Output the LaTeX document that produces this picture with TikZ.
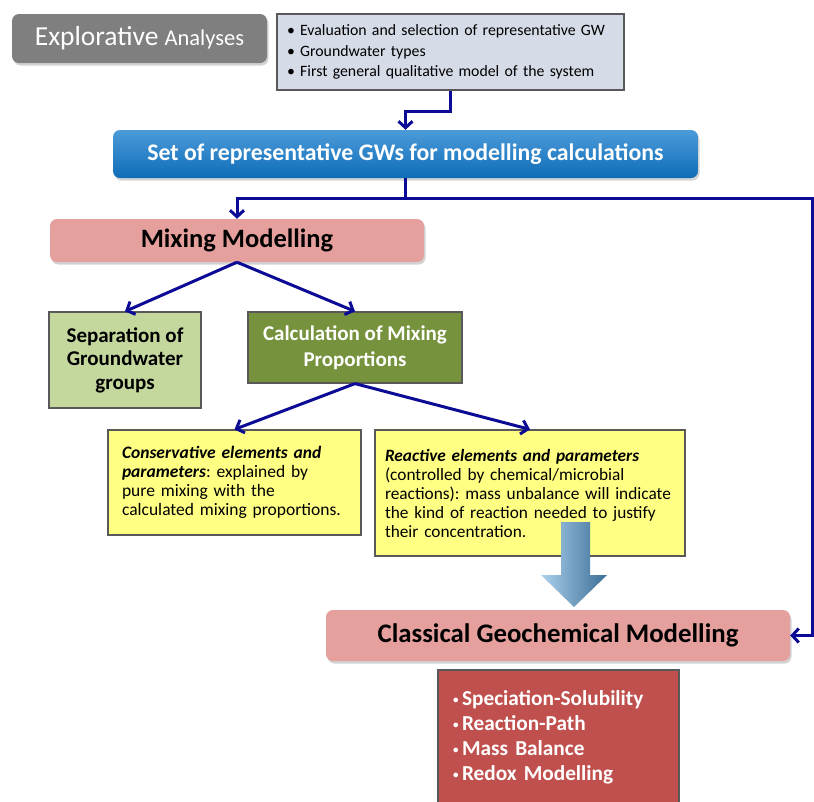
\documentclass[tikz,border=0pt]{standalone}
\usepackage{fontspec}
\setmainfont{Carlito}
\usetikzlibrary{arrows.meta,shadows}
\frenchspacing

\definecolor{arrowblue}{HTML}{0B0B96}
\definecolor{greybox}{HTML}{7F7F7F}
\definecolor{notefill}{HTML}{D6DBE8}
\definecolor{setblue}{HTML}{1079CC}
\definecolor{pinkbox}{HTML}{E5A09E}
\definecolor{lightgreen}{HTML}{C4D89E}
\definecolor{olive}{HTML}{76923C}
\definecolor{paleyellow}{HTML}{FFFF84}
\definecolor{redbox}{HTML}{C0504D}

\newcommand{\dotitem}{\raisebox{2.5pt}{\fontsize{11}{11}\selectfont\textbullet}\,}

\begin{document}
\begin{tikzpicture}[x=1pt,y=-1pt,
  flat/.style={draw=black!65,line width=1.2pt,inner ysep=0pt},
  soft/.style={rounded corners=7pt,drop shadow={opacity=0.35,shadow xshift=1.5pt,shadow yshift=-2.5pt}},
  link/.style={draw=arrowblue,line width=3pt,-{Straight Barb[length=6.5pt,width=14pt]}}
 ]
\useasboundingbox (0,0) rectangle (814,801);

% top row
\node[soft,fill=greybox,text=white,minimum width=255,minimum height=49] (explor) at (139.5,38.5)
  {{\fontsize{27.5}{31}\selectfont Explorative}\hspace{6pt}{\fontsize{22.5}{26}\selectfont Analyses}};
\node[flat,fill=notefill,text width=327,inner xsep=10,minimum height=76,align=left,
  font={\fontsize{15.8}{20.5}\selectfont}] (notes) at (450.5,52)
  {\textbullet\ Evaluation and selection of representative GW\\
   \textbullet\ Groundwater types\\
   \textbullet\ First general qualitative model of the system};

\node[soft,top color=setblue!75!white,bottom color=setblue!90!black,text=white,minimum width=585,minimum height=48,
  font={\fontsize{23.8}{27}\selectfont\bfseries}] (gwset) at (405.5,154)
  {Set of representative GWs for modelling calculations};

% mixing part
\node[soft,fill=pinkbox,minimum width=374,minimum height=43,
  font={\fontsize{26.5}{30}\selectfont\bfseries}] (mixing) at (237,240.5) {Mixing Modelling};
\node[flat,fill=lightgreen,minimum width=152,minimum height=96,align=center,
  font={\fontsize{21}{23.5}\selectfont\bfseries}] (groups) at (125,360)
  {Separation of\\ Groundwater\\ groups};
\node[flat,fill=olive,text=white,minimum width=214,minimum height=71,align=center,
  font={\fontsize{21}{26}\selectfont\bfseries}] (propor) at (355,347.5)
  {Calculation of Mixing\\ Proportions};

\node[flat,fill=paleyellow,text width=225,inner xsep=14,minimum height=105,align=left,
  font={\fontsize{17.5}{19}\selectfont}] (conserv) at (234.5,482.5)
  {\textbf{\textit{Conservative elements and}}\\
   \textbf{\textit{parameters}}: explained by\\
   pure mixing with the\\
   calculated mixing proportions.};
\node[flat,fill=paleyellow,text width=290,inner xsep=10,minimum height=126,align=left,
  font={\fontsize{17.3}{19}\selectfont}] (react) at (530,493)
  {\textbf{\textit{Reactive elements and parameters}}\\
   (controlled by chemical/microbial\\
   reactions): mass unbalance will indicate\\
   the kind of reaction needed to justify\\
   their concentration.};

% block arrow
\shade[left color=setblue!35!white,right color=setblue!60!black!80]
  (561,522) -- (590,522) -- (590,575) -- (607,575) -- (574,607) -- (541,575) -- (561,575) -- cycle;

% geochemical part
\node[soft,fill=pinkbox,minimum width=464,minimum height=51,
  font={\fontsize{26.8}{30}\selectfont\bfseries}] (classic) at (558,635.5) {Classical Geochemical Modelling};
\node[flat,fill=redbox,text=white,text width=211,inner xsep=15,minimum height=135,align=left,
  font={\fontsize{21.3}{25}\selectfont\bfseries}] (methods) at (558.5,737.5)
  {\dotitem Speciation-Solubility\\
   \dotitem Reaction-Path\\
   \dotitem Mass Balance\\
   \dotitem Redox Modelling};

% connectors
\coordinate (rightturn) at (812,198);
\draw[link] (notes.south) -- ++(0,21) -| (gwset.north);
\draw[link] (gwset.south) |- (rightturn) |- (classic.east);
\draw[link] (gwset.south) -- ++(0,20) -| (mixing.north);
\draw[link] (mixing.south) -- (groups.north);
\draw[link] (mixing.south) -- (propor.north);
\draw[link] (propor.south) -- (conserv.north);
\draw[link] (propor.south) -- (react.north);
\end{tikzpicture}
\end{document}
